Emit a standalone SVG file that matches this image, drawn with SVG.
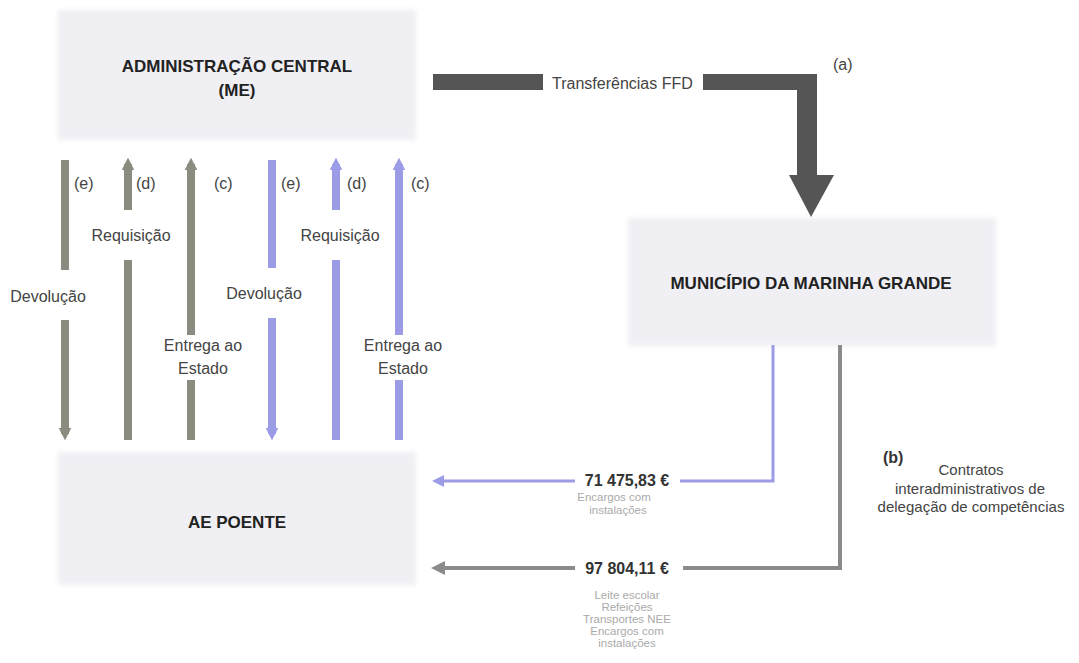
<svg xmlns="http://www.w3.org/2000/svg" width="1079" height="663" viewBox="0 0 1079 663">
<defs>
<style>
text{font-family:"Liberation Sans",Arial,sans-serif;fill:#333}
.node{fill:#efeff4}
.title{font-weight:bold;font-size:17px;fill:#222}
.lab{font-size:16px;fill:#444}
.amt{font-size:16px;font-weight:bold;fill:#333}
.small{font-size:11.5px;fill:#aaa}
.side{font-size:15px;fill:#444}
.g{stroke:#8b8b80;stroke-width:8;fill:none}
.b{stroke:#9c9ce6;stroke-width:8;fill:none}
</style>
<filter id="soft" x="-5%" y="-5%" width="110%" height="110%"><feGaussianBlur stdDeviation="2.5"/></filter>
<marker id="ag" viewBox="0 0 10 10" refX="5" refY="5" markerWidth="1.6" markerHeight="1.6" orient="auto"><path d="M0,0L10,5L0,10z" fill="#8b8b80"/></marker>
<marker id="ab" viewBox="0 0 10 10" refX="5" refY="5" markerWidth="1.6" markerHeight="1.6" orient="auto"><path d="M0,0L10,5L0,10z" fill="#9c9ce6"/></marker>
<marker id="hb" viewBox="0 0 10 10" refX="5" refY="5" markerWidth="4" markerHeight="4" orient="auto"><path d="M0,0L10,5L0,10z" fill="#9c9ce6"/></marker>
<marker id="hg" viewBox="0 0 10 10" refX="5" refY="5" markerWidth="3.5" markerHeight="3.5" orient="auto"><path d="M0,0L10,5L0,10z" fill="#8b8b8b"/></marker>
</defs>
<rect width="1079" height="663" fill="#fff"/>
<g id="admin-central">
<rect class="node" x="58" y="10" width="358" height="130" filter="url(#soft)"/>
<text class="title" x="237" y="72" text-anchor="middle">ADMINISTRAÇÃO CENTRAL</text>
<text class="title" x="237" y="96" text-anchor="middle">(ME)</text>
</g>
<g id="municipio">
<rect class="node" x="628" y="218" width="368" height="128" filter="url(#soft)"/>
<text class="title" x="811" y="289" text-anchor="middle">MUNICÍPIO DA MARINHA GRANDE</text>
</g>
<g id="ae-poente">
<rect class="node" x="58" y="452" width="358" height="133" filter="url(#soft)"/>
<text class="title" x="237" y="528" text-anchor="middle">AE POENTE</text>
</g>
<g id="connectors">
<rect x="433" y="74" width="110" height="16" fill="#555"/>
<path d="M703,74H817V176H797V90H703z" fill="#555"/>
<path d="M789,175H834L811,217z" fill="#555"/>
<text class="lab" x="552" y="89">Transferências FFD</text>
<text class="lab" x="833" y="70">(a)</text>
<line class="g" x1="65" y1="160" x2="65" y2="270"/>
<line class="g" x1="65" y1="320" x2="65" y2="434" marker-end="url(#ag)"/>
<line class="g" x1="128" y1="210" x2="128" y2="164" marker-end="url(#ag)"/>
<line class="g" x1="128" y1="260" x2="128" y2="440"/>
<line class="g" x1="191" y1="335" x2="191" y2="164" marker-end="url(#ag)"/>
<line class="g" x1="191" y1="380" x2="191" y2="440"/>
<line class="b" x1="272" y1="160" x2="272" y2="268"/>
<line class="b" x1="272" y1="318" x2="272" y2="434" marker-end="url(#ab)"/>
<line class="b" x1="336" y1="210" x2="336" y2="164" marker-end="url(#ab)"/>
<line class="b" x1="336" y1="260" x2="336" y2="440"/>
<line class="b" x1="399" y1="335" x2="399" y2="164" marker-end="url(#ab)"/>
<line class="b" x1="399" y1="380" x2="399" y2="440"/>
<text class="lab" x="74" y="189">(e)</text>
<text class="lab" x="136" y="189">(d)</text>
<text class="lab" x="214" y="189">(c)</text>
<text class="lab" x="281" y="189">(e)</text>
<text class="lab" x="347" y="189">(d)</text>
<text class="lab" x="411" y="189">(c)</text>
<text class="lab" x="48" y="302" text-anchor="middle">Devolução</text>
<text class="lab" x="131" y="241" text-anchor="middle">Requisição</text>
<text class="lab" x="203" y="351" text-anchor="middle">Entrega ao</text>
<text class="lab" x="203" y="374" text-anchor="middle">Estado</text>
<text class="lab" x="264" y="299" text-anchor="middle">Devolução</text>
<text class="lab" x="340" y="241" text-anchor="middle">Requisição</text>
<text class="lab" x="403" y="351" text-anchor="middle">Entrega ao</text>
<text class="lab" x="403" y="374" text-anchor="middle">Estado</text>
<path d="M773,345V481H680" stroke="#9c9ce6" stroke-width="3" fill="none"/>
<line x1="575" y1="481" x2="438" y2="481" stroke="#9c9ce6" stroke-width="3" marker-end="url(#hb)"/>
<text class="amt" x="627" y="486" text-anchor="middle">71 475,83 €</text>
<text class="small" x="614" y="501" text-anchor="middle">Encargos com</text>
<text class="small" x="618" y="514" text-anchor="middle">instalações</text>
<path d="M840,345V568H683" stroke="#8b8b8b" stroke-width="4" fill="none"/>
<line x1="575" y1="568" x2="438" y2="568" stroke="#8b8b8b" stroke-width="4" marker-end="url(#hg)"/>
<text class="amt" x="627" y="574" text-anchor="middle">97 804,11 €</text>
<text class="small" x="627" y="599" text-anchor="middle">Leite escolar</text>
<text class="small" x="627" y="611" text-anchor="middle">Refeições</text>
<text class="small" x="627" y="623" text-anchor="middle">Transportes NEE</text>
<text class="small" x="627" y="635" text-anchor="middle">Encargos com</text>
<text class="small" x="627" y="647" text-anchor="middle">instalações</text>
<text class="amt" x="883" y="463">(b)</text>
<text class="side" x="971" y="475" text-anchor="middle">Contratos</text>
<text class="side" x="970" y="494" text-anchor="middle">interadministrativos de</text>
<text class="side" x="971" y="512" text-anchor="middle">delegação de competências</text>
</g>
</svg>
